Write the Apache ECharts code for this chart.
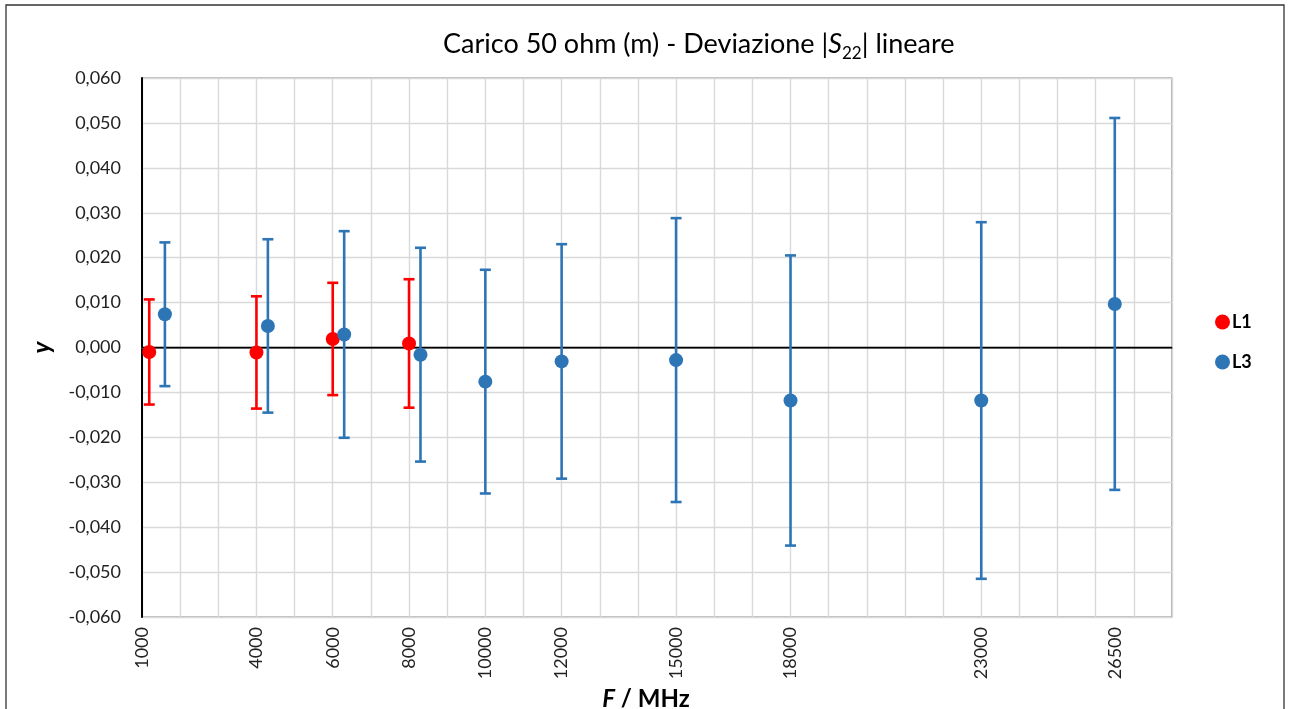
<!DOCTYPE html>
<html>
<head>
<meta charset="utf-8">
<script src="https://cdn.jsdelivr.net/npm/echarts@6/dist/echarts.min.js"></script>
<style>
html,body{margin:0;padding:0;background:#fff;}
#chart{width:1290px;height:709px;}
</style>
</head>
<body>
<div id="chart"></div>
<script>
// ---- data ----
const tickLabels = [1000, 4000, 6000, 8000, 10000, 12000, 15000, 18000, 23000, 26500];

const l1Freq = [1190, 4000, 6000, 8000];
const l1Value = [-0.0010, -0.0011, 0.0019, 0.0009];
const l1Err = [0.0117, 0.0125, 0.0125, 0.0143];

const l3Freq = [1600, 4300, 6300, 8300, 10000, 12000, 15000, 18000, 23000, 26500];
const l3Value = [0.0074, 0.0048, 0.0029, -0.0016, -0.0076, -0.0031, -0.0028, -0.0118, -0.0118, 0.0097];
const l3Err = [0.0160, 0.0193, 0.0230, 0.0238, 0.0249, 0.0261, 0.0316, 0.0323, 0.0397, 0.0414];

const RED = '#ff0000';
const BLUE = '#2e75b6';
const FONT = 'Lato';

function pts(xs, ys) { return xs.map((x, i) => [x, ys[i]]); }
function bars(xs, ys, es) { return xs.map((x, i) => [x, ys[i] - es[i], ys[i] + es[i]]); }

function errRender(color) {
  return function (params, api) {
    const x = api.value(0);
    const lo = api.coord([x, api.value(1)]);
    const hi = api.coord([x, api.value(2)]);
    const hw = 5.5;
    const style = { stroke: color, lineWidth: 2.6, fill: 'none' };
    return {
      type: 'group',
      children: [
        { type: 'line', shape: { x1: lo[0], y1: lo[1], x2: hi[0], y2: hi[1] }, style },
        { type: 'line', shape: { x1: hi[0] - hw, y1: hi[1], x2: hi[0] + hw, y2: hi[1] }, style },
        { type: 'line', shape: { x1: lo[0] - hw, y1: lo[1], x2: lo[0] + hw, y2: lo[1] }, style }
      ]
    };
  };
}

const chart = echarts.init(document.getElementById('chart'), null, { renderer: 'canvas' });
chart.setOption({
  animation: false,
  backgroundColor: '#fff',
  textStyle: { fontFamily: FONT },
  title: {
    left: 438, top: 22,
    text: '{a|Carico 50 ohm (m) - Deviazione |}{s|S}{sub|22}{a|| lineare}',
    textStyle: {
      fontWeight: 'normal',
      rich: {
        a: { fontFamily: FONT, fontSize: 27, fontWeight: 'normal', color: '#000', lineHeight: 32 },
        s: { fontFamily: FONT, fontSize: 27, fontWeight: 'normal', fontStyle: 'italic', color: '#000', lineHeight: 32 },
        sub: { fontFamily: FONT, fontSize: 17, fontWeight: 'normal', color: '#000', padding: [18, 0, 0, 0] }
      }
    }
  },
  legend: {
    orient: 'vertical',
    left: 1210, top: 308,
    itemWidth: 15, itemHeight: 15, itemGap: 22,
    icon: 'circle',
    textStyle: { fontFamily: FONT, fontSize: 18, fontWeight: 'bold', color: '#000', padding: [0, 0, 0, -3] },
    data: ['L1', 'L3']
  },
  grid: {
    left: 142, right: 118, top: 78, bottom: 92,
    outerBoundsMode: 'none',
    show: true, borderColor: '#7f7f7f', borderWidth: 1.2
  },
  xAxis: {
    type: 'value', min: 1000, max: 28000, interval: 1000,
    name: '{f|F}{t| / MHz}',
    nameLocation: 'middle', nameGap: 68,
    nameTextStyle: {
      fontWeight: 'bold', fontSize: 24, padding: [0, 22, 0, 0],
      rich: {
        f: { fontFamily: FONT, fontSize: 24, fontWeight: 'bold', fontStyle: 'italic', color: '#000' },
        t: { fontFamily: FONT, fontSize: 24, fontWeight: 'bold', color: '#000' }
      }
    },
    axisLine: { show: true, lineStyle: { color: '#595959', width: 1.6 } },
    axisTick: { show: false },
    splitLine: { show: true, lineStyle: { color: '#d9d9d9', width: 1.4 } },
    axisLabel: {
      customValues: tickLabels,
      rotate: 90, margin: 10,
      fontFamily: FONT, fontSize: 18, color: '#222',
      formatter: v => String(v)
    }
  },
  yAxis: {
    type: 'value', min: -0.06, max: 0.06, interval: 0.01,
    name: 'y', nameLocation: 'middle', nameGap: 88, nameRotate: 90,
    nameTextStyle: { fontFamily: FONT, fontSize: 24, fontWeight: 'bold', fontStyle: 'italic', color: '#000' },
    axisLine: { show: true, lineStyle: { color: '#000', width: 2 } },
    axisTick: { show: false },
    splitLine: { show: true, lineStyle: { color: '#d9d9d9', width: 1.4 } },
    axisLabel: {
      margin: 21, fontFamily: FONT, fontSize: 18, color: '#222',
      formatter: v => { const s = Math.abs(v) < 1e-9 ? '0.000' : v.toFixed(3); return s.replace('.', ','); }
    }
  },
  graphic: [{
    type: 'rect', silent: true, z: 100,
    shape: { x: 6, y: 5, width: 1278, height: 720 },
    style: { fill: 'none', stroke: '#333', lineWidth: 1.3 }
  }],
  series: [
    {
      name: 'L1err', type: 'custom', renderItem: errRender(RED),
      data: bars(l1Freq, l1Value, l1Err), z: 3, silent: true,
      encode: { x: 0, y: [1, 2] }
    },
    {
      name: 'L1', type: 'scatter', data: pts(l1Freq, l1Value),
      symbol: 'circle', symbolSize: 14, itemStyle: { color: RED, opacity: 1 }, z: 4,
      markLine: {
        silent: true, symbol: 'none', label: { show: false },
        lineStyle: { color: '#000', width: 1.3, type: 'solid' },
        data: [{ yAxis: 0 }], z: 2
      }
    },
    {
      name: 'L3err', type: 'custom', renderItem: errRender(BLUE),
      data: bars(l3Freq, l3Value, l3Err), z: 5, silent: true,
      encode: { x: 0, y: [1, 2] }
    },
    {
      name: 'L3', type: 'scatter', data: pts(l3Freq, l3Value),
      symbol: 'circle', symbolSize: 14, itemStyle: { color: BLUE, opacity: 1 }, z: 6
    }
  ]
});
</script>
</body>
</html>
